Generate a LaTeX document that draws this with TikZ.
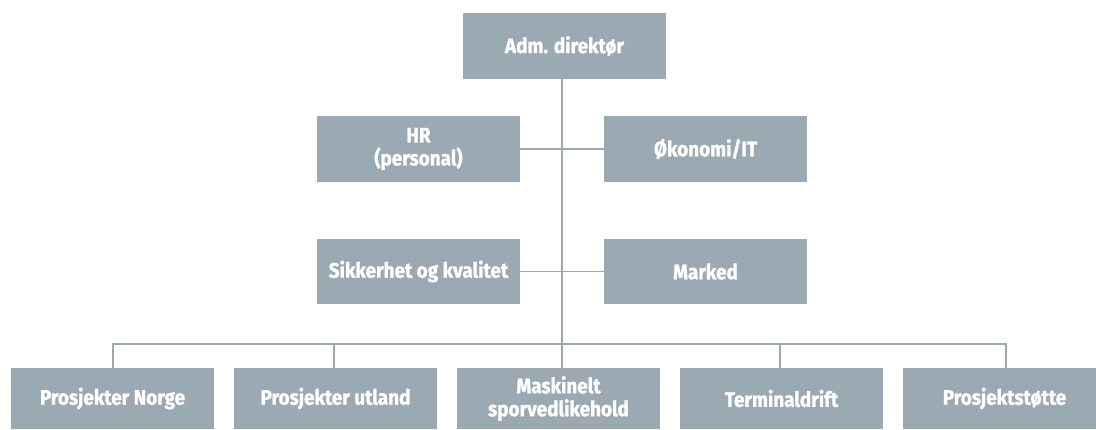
\documentclass[tikz,border=0pt]{standalone}
\usepackage{fontspec}
\setmainfont{Fira Sans}[FakeStretch=0.9, BoldFont={Fira Sans Bold}, BoldFeatures={FakeBold=1.2}]
\definecolor{boxgray}{RGB}{155,170,178}
\tikzset{
  orgbox/.style={fill=boxgray, draw=none, text=white, font=\bfseries\fontsize{21}{23}\selectfont,
    minimum width=203pt, minimum height=66pt, inner sep=0pt, align=center, anchor=center},
  botbox/.style={orgbox, minimum height=61pt},
  conn/.style={draw=boxgray, line width=1.8pt}
}
\begin{document}
\begin{tikzpicture}[x=1pt,y=-1pt]
\clip (0,0) rectangle (1096,429);
\fill[white] (0,0) rectangle (1096,429);
\coordinate (trunk) at (562,344);
\node[orgbox] (top) at (564.5,46) {Adm. direktør};
\node[orgbox] (hr) at (418.5,149) {HR\\(personal)};
\node[orgbox] (oko) at (705.5,149) {Økonomi/IT};
\node[orgbox, minimum height=65pt] (sik) at (418.5,271.5) {Sikkerhet og kvalitet};
\node[orgbox, minimum height=65pt] (mar) at (705.5,271.5) {Marked};
\node[botbox] (b1) at (112.5,398.5) {Prosjekter Norge};
\node[botbox] (b2) at (335.5,398.5) {Prosjekter utland};
\node[botbox] (b3) at (558.5,398.5) {Maskinelt\\sporvedlikehold};
\node[botbox] (b4) at (781.5,398.5) {Terminaldrift};
\node[botbox] (b5) at (1004.5,398.5) {Prosjektstøtte};
\draw[conn] (top.south -| trunk) -- (trunk);
\draw[conn] (hr.east) -- (oko.west);
\draw[conn] (sik.east) -- (mar.west);
\draw[conn] (b1.north -| 112.7,0) |- (trunk);
\draw[conn] (trunk) -- ([xshift=1.5pt]b5.north |- trunk) -- ([xshift=1.5pt]b5.north);
\draw[conn] (b2.north -| 334.3,0) -- (trunk -| 334.3,0);
\draw[conn] (trunk) -- (b3.north -| trunk);
\draw[conn] (b4.north -| 780,0) -- (trunk -| 780,0);
\end{tikzpicture}
\end{document}
